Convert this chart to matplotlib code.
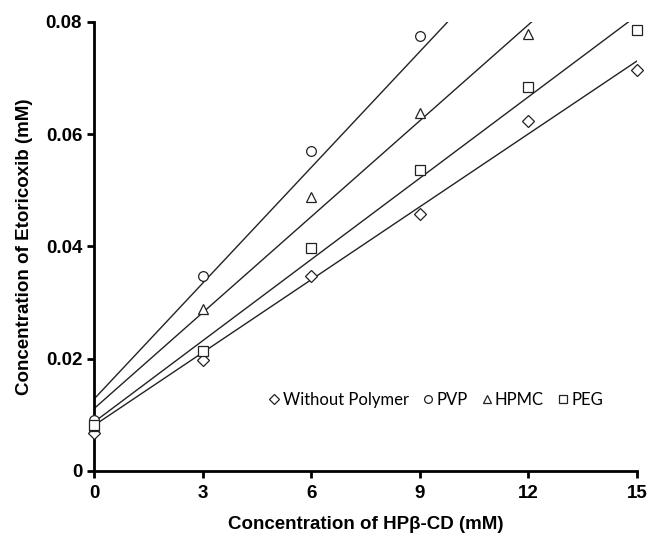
import matplotlib
matplotlib.use('Agg')
import matplotlib.pyplot as plt
import numpy as np

# concentrations de HPβ-CD (mM)
x_full = [0, 3, 6, 9, 12, 15]
x_pvp = [0, 3, 6, 9]
x_hpmc = [0, 3, 6, 9, 12]

# solubilité de l'étoricoxib (mM)
y_without = [0.0068, 0.0197, 0.0348, 0.0457, 0.0623, 0.0714]
y_pvp = [0.0090, 0.0348, 0.0570, 0.0775]
y_hpmc = [0.0080, 0.0289, 0.0489, 0.0638, 0.0779]
y_peg = [0.0082, 0.0213, 0.0398, 0.0536, 0.0684, 0.0786]

# droites de régression (pente, ordonnée à l'origine)
fit_without = (0.00433, 0.0081)
fit_pvp = (0.00688, 0.0128)
fit_hpmc = (0.00570, 0.0111)
fit_peg = (0.00483, 0.0087)

series = [
    ('Without Polymer', x_full, y_without, fit_without, 'D', 6),
    ('PVP', x_pvp, y_pvp, fit_pvp, 'o', 7),
    ('HPMC', x_hpmc, y_hpmc, fit_hpmc, '^', 7.5),
    ('PEG', x_full, y_peg, fit_peg, 's', 7),
]

fig = plt.figure(figsize=(6.49, 5.36), dpi=100)
ax = fig.add_axes([0.1448, 0.1213, 0.8367, 0.8377])

xx = np.array([0, 15])
for label, xs, ys, fit, marker, ms in series:
    ax.plot(xx, fit[0] * xx + fit[1], color='#222222', linewidth=1.0, zorder=2)
    ax.plot(xs, ys, linestyle='none', marker=marker, markersize=ms,
            markerfacecolor='white', markeredgecolor='#222222',
            markeredgewidth=0.9, label=label, zorder=3, clip_on=False)

ax.set_xlim(0, 15)
ax.set_ylim(0, 0.08)
ax.set_xticks([0, 3, 6, 9, 12, 15])
ax.set_yticks([0, 0.02, 0.04, 0.06, 0.08])
ax.set_yticklabels(['0', '0.02', '0.04', '0.06', '0.08'])

for s in ['top', 'right']:
    ax.spines[s].set_visible(False)
for s in ['left', 'bottom']:
    ax.spines[s].set_linewidth(2)
ax.tick_params(width=2, length=5, direction='out')
ax.tick_params(axis='x', pad=5)
ax.tick_params(axis='y', pad=3.5)
for t in ax.get_xticklabels() + ax.get_yticklabels():
    t.set_fontfamily('Liberation Sans')
    t.set_fontweight('bold')
    t.set_fontsize(13.5)

ax.set_xlabel('Concentration of HPβ-CD (mM)', fontfamily='Liberation Sans',
              fontweight='bold', fontsize=13.5, labelpad=10)
ax.set_ylabel('Concentration of Etoricoxib (mM)', fontfamily='Liberation Sans',
              fontweight='bold', fontsize=13.5, labelpad=9)

leg = ax.legend(loc='center', bbox_to_anchor=(0.629, 0.158), ncol=4, frameon=False,
                handletextpad=0.1, columnspacing=0.75, handlelength=0.8,
                prop={'family': 'Lato', 'size': 12}, markerscale=0.8)

plt.savefig('out.png', dpi=100)
plt.close(fig)
